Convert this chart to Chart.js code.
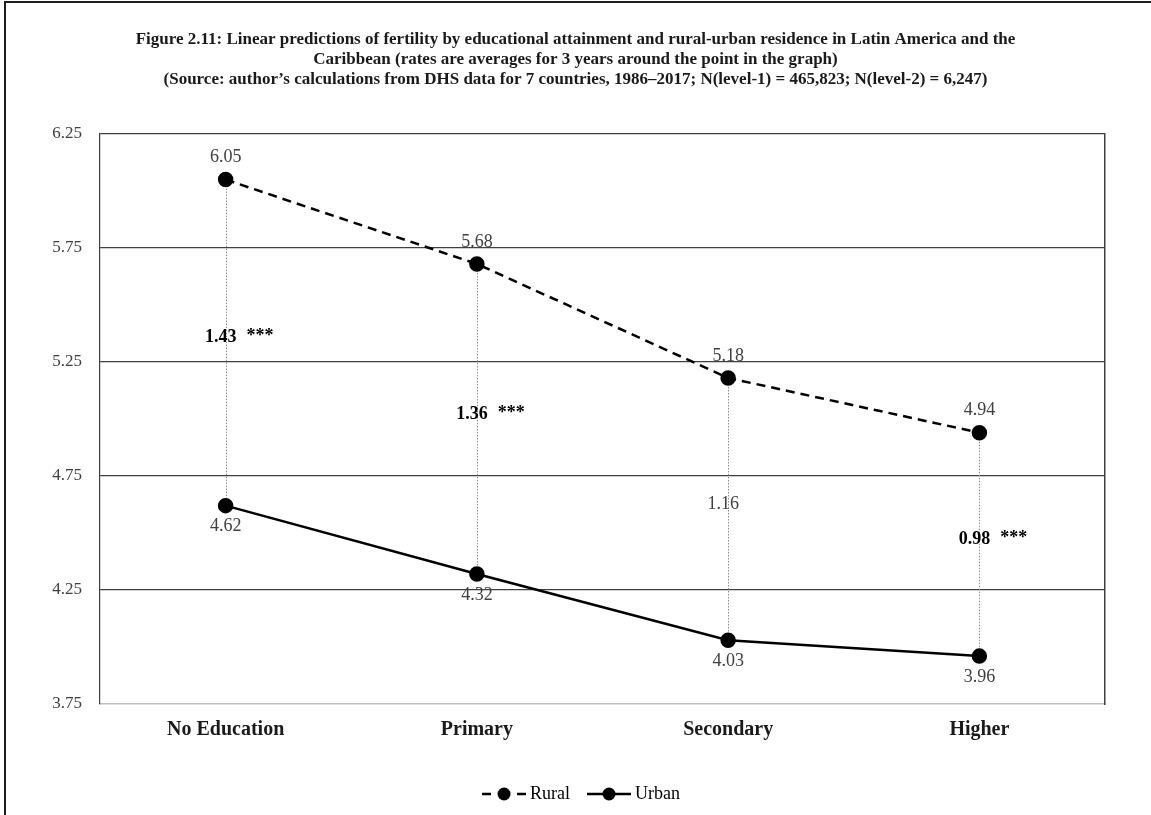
<!DOCTYPE html>
<html>
<head>
<meta charset="utf-8">
<title>Linear predictions of fertility</title>
<script src="https://cdn.jsdelivr.net/npm/chart.js@4.4.1/dist/chart.umd.min.js"></script>
<style>
  html, body { margin: 0; padding: 0; background: #fff; overflow: hidden; }
  #frame { position: absolute; left: 4px; top: 1px; width: 1300px; height: 1000px; border: 2px solid #1e1e1e; }
  #wrap { position: absolute; left: 0; top: 0; width: 1151px; height: 815px; }
</style>
</head>
<body>
<div id="frame"></div>
<div id="wrap"><canvas id="fertilityChart"></canvas></div>
<script>
// --- Data ---
const categories = ['No Education', 'Primary', 'Secondary', 'Higher'];
const rural = [6.05, 5.68, 5.18, 4.94];
const urban = [4.62, 4.32, 4.03, 3.96];
const gapLabels = ['1.43', '1.36', '1.16', '0.98'];
const gapStars = ['***', '***', '', '***'];
const yTicks = [3.75, 4.25, 4.75, 5.25, 5.75, 6.25];
const titleLines = [
    'Figure 2.11: Linear predictions of fertility by educational attainment and rural-urban residence in Latin America and the',
    'Caribbean (rates are averages for 3 years around the point in the graph)',
    '(Source: author\u2019s calculations from DHS data for 7 countries, 1986\u20132017; N(level-1) = 465,823; N(level-2) = 6,247)'
];

const SERIF = "'Liberation Serif', 'Times New Roman', serif";
const GRID = '#404040';
const LABEL = '#404040';

// line+dot swatches for the legend (drawn on the right part of a 60px canvas)
function legendMarker(dashed) {
    const c = document.createElement('canvas');
    c.width = 60;
    c.height = 14;
    const g = c.getContext('2d');
    g.strokeStyle = '#000';
    g.fillStyle = '#000';
    g.lineWidth = 2.5;
    g.beginPath();
    if (dashed) {
        g.moveTo(16, 7); g.lineTo(25, 7);
        g.moveTo(51, 7); g.lineTo(60, 7);
    } else {
        g.moveTo(16, 7); g.lineTo(60, 7);
    }
    g.stroke();
    g.beginPath();
    g.arc(38, 7, 6.5, 0, Math.PI * 2);
    g.fill();
    return c;
}
const markers = [legendMarker(true), legendMarker(false)];

// vertical dotted drop lines between the two series
const dropLines = {
    id: 'dropLines',
    beforeDatasetsDraw(chart) {
        const top = chart.getDatasetMeta(0).data;
        const bottom = chart.getDatasetMeta(1).data;
        const ctx = chart.ctx;
        ctx.save();
        ctx.strokeStyle = '#8c8c8c';
        ctx.lineWidth = 1;
        ctx.setLineDash([1.5, 1.5]);
        top.forEach((pt, i) => {
            const x = Math.round(pt.x) + 0.5;
            ctx.beginPath();
            ctx.moveTo(x, pt.y);
            ctx.lineTo(x, bottom[i].y);
            ctx.stroke();
        });
        ctx.restore();
    }
};

// value labels and the rural-urban gap labels
const valueLabels = {
    id: 'valueLabels',
    afterDatasetsDraw(chart) {
        const ctx = chart.ctx;
        const yScale = chart.scales.y;
        const top = chart.getDatasetMeta(0).data;
        const bottom = chart.getDatasetMeta(1).data;
        ctx.save();
        ctx.textAlign = 'center';
        ctx.textBaseline = 'middle';
        ctx.fillStyle = LABEL;
        ctx.font = `18px ${SERIF}`;
        top.forEach((pt, i) => ctx.fillText(rural[i].toFixed(2), pt.x, pt.y - 22));
        bottom.forEach((pt, i) => ctx.fillText(urban[i].toFixed(2), pt.x, pt.y + 21));

        top.forEach((pt, i) => {
            const y = yScale.getPixelForValue((rural[i] + urban[i]) / 2) - 5;
            const cx = pt.x - 5;
            const sig = gapStars[i] !== '';
            ctx.textAlign = 'center';
            ctx.font = `${sig ? 'bold ' : ''}18px ${SERIF}`;
            ctx.fillStyle = sig ? '#000' : LABEL;
            ctx.fillText(gapLabels[i], cx, y);
            if (sig) {
                const w = ctx.measureText(gapLabels[i]).width;
                ctx.textAlign = 'left';
                ctx.font = `bold 18px ${SERIF}`;
                ctx.fillText(gapStars[i], cx + w / 2 + 10, y - 1);
            }
        });
        ctx.restore();
    }
};

const ctx = document.getElementById('fertilityChart').getContext('2d');
new Chart(ctx, {
    type: 'line',
    data: {
        labels: categories,
        datasets: [
            {
                label: 'Rural',
                data: rural,
                borderColor: '#000',
                backgroundColor: '#000',
                borderWidth: 2.5,
                borderDash: [9, 6],
                pointRadius: 6.5,
                pointHoverRadius: 6.5,
                tension: 0
            },
            {
                label: 'Urban',
                data: urban,
                borderColor: '#000',
                backgroundColor: '#000',
                borderWidth: 2.5,
                pointRadius: 6.5,
                pointHoverRadius: 6.5,
                tension: 0
            }
        ]
    },
    options: {
        responsive: true,
        maintainAspectRatio: false,
        animation: false,
        events: [],
        layout: { padding: { left: 0, right: 0, top: 0, bottom: 2 } },
        plugins: {
            title: {
                display: true,
                text: titleLines,
                color: '#1a1a1a',
                font: { family: SERIF, size: 17, weight: 'bold', lineHeight: 20 / 17 },
                padding: { top: 30, bottom: 44 }
            },
            legend: {
                position: 'bottom',
                labels: {
                    usePointStyle: true,
                    pointStyleWidth: 50,
                    color: LABEL,
                    font: { family: SERIF, size: 18 },
                    padding: 6,
                    generateLabels: chart => chart.data.datasets.map((ds, i) => ({
                        text: ds.label,
                        pointStyle: markers[i],
                        fillStyle: '#000',
                        strokeStyle: '#000',
                        lineWidth: 0,
                        hidden: false,
                        datasetIndex: i
                    }))
                }
            },
            tooltip: { enabled: false }
        },
        scales: {
            x: {
                offset: true,
                afterFit: scale => { scale.height = 75; },
                grid: { display: false, drawTicks: false },
                border: { display: true, color: '#c0c0c0', width: 1.5 },
                ticks: {
                    color: '#1a1a1a',
                    padding: 14,
                    font: { family: SERIF, size: 20, weight: 'bold' }
                }
            },
            y: {
                min: 3.75,
                max: 6.25,
                afterBuildTicks: scale => { scale.ticks = yTicks.map(v => ({ value: v })); },
                afterFit: scale => { scale.width = 100; },
                grid: {
                    drawTicks: false,
                    lineWidth: 1.2,
                    color: c => (c.tick && c.tick.value === 3.75) ? 'rgba(0,0,0,0)' : GRID
                },
                border: { display: true, color: GRID, width: 1.2 },
                ticks: {
                    color: LABEL,
                    padding: 18,
                    font: { family: SERIF, size: 17 },
                    callback: v => Number(v).toFixed(2)
                }
            },
            yRight: {
                position: 'right',
                min: 0,
                max: 1,
                afterFit: scale => { scale.width = 46; },
                grid: { display: false, drawTicks: false },
                border: { display: true, color: GRID, width: 1.5 },
                ticks: { display: false }
            }
        }
    },
    plugins: [dropLines, valueLabels]
});
</script>
</body>
</html>
